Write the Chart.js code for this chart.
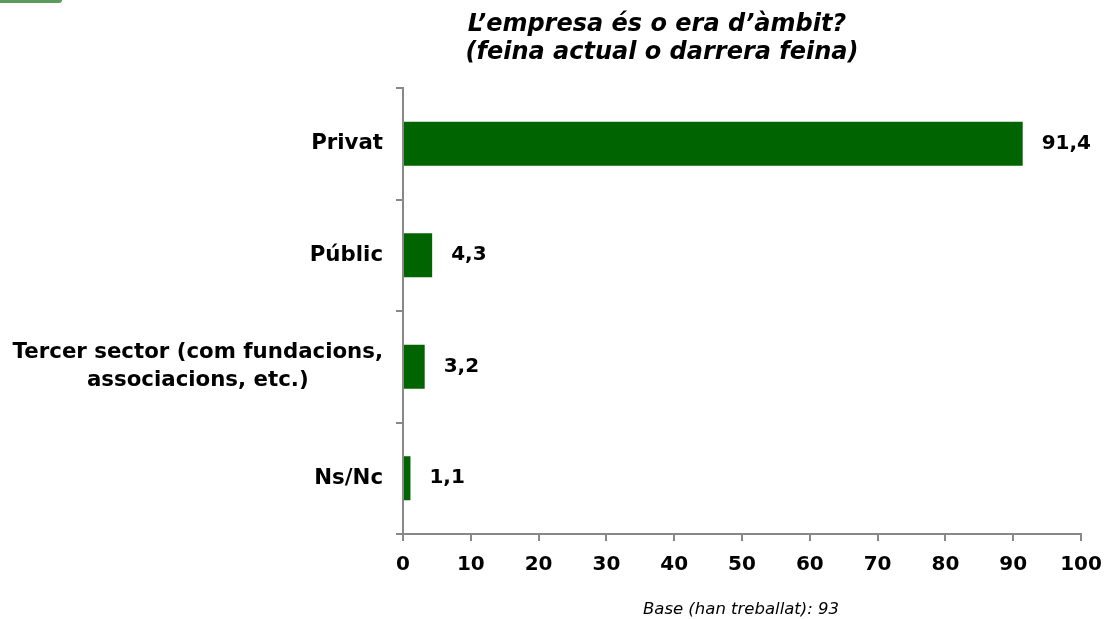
<!DOCTYPE html>
<html>
<head>
<meta charset="utf-8">
<script src="https://cdn.jsdelivr.net/npm/chart.js@4.4.0/dist/chart.umd.min.js"></script>
<style>
  html, body { margin: 0; padding: 0; background: #fff; }
  #wrap { position: relative; width: 1107px; height: 619px; }
  #deco { position: absolute; left: 0; top: 0; width: 62px; height: 3px; background: #5b9b5b; border-bottom-right-radius: 3px; }
</style>
</head>
<body>
<div id="wrap">
  <canvas id="c" width="1107" height="619"></canvas>
  <div id="deco"></div>
</div>
<script>
const categories = [["Privat"], ["Públic"], ["Tercer sector (com fundacions,", "associacions, etc."+")"], ["Ns/Nc"]];
const values = [91.4, 4.3, 3.2, 1.1];
const valueLabels = ["91,4", "4,3", "3,2", "1,1"];
const xTicks = [0, 10, 20, 30, 40, 50, 60, 70, 80, 90, 100];
const titleLines = ["L\u2019empresa és o era d\u2019àmbit?", "(feina actual o darrera feina)"];
const footnote = "Base (han treballat): 93";

const FONT = '"DejaVu Sans", Verdana, sans-serif';
const AXIS_COLOR = '#888888';
const BAR_COLOR = '#006400';

const textPlugin = {
  id: 'textPlugin',
  afterDraw(chart) {
    const ctx = chart.ctx;
    const ys = chart.scales.y;
    ctx.save();
    ctx.fillStyle = '#000';
    // category labels
    ctx.font = 'bold 21.3px ' + FONT;
    ctx.textBaseline = 'middle';
    ctx.textAlign = 'center';
    const lineH = 28;
    categories.forEach((lines, i) => {
      const yc = ys.getPixelForValue(i);
      const w = Math.max(...lines.map(l => ctx.measureText(l).width));
      const cx = ys.right - 20 - w / 2;
      lines.forEach((l, j) => {
        ctx.fillText(l, cx, yc + (j - (lines.length - 1) / 2) * lineH);
      });
    });
    // value labels
    ctx.font = 'bold 20px ' + FONT;
    ctx.textAlign = 'left';
    const meta = chart.getDatasetMeta(0);
    meta.data.forEach((bar, i) => {
      ctx.fillText(valueLabels[i], bar.x + 19, bar.y);
    });
    // title
    ctx.font = 'italic bold 24px ' + FONT;
    ctx.textAlign = 'center';
    ctx.textBaseline = 'alphabetic';
    ctx.fillText(titleLines[0], 657, 31);
    ctx.fillText(titleLines[1], 662, 59);
    // footnote
    ctx.font = 'italic 16.5px ' + FONT;
    ctx.fillText(footnote, 741, 614);
    ctx.restore();
  }
};

new Chart(document.getElementById('c'), {
  type: 'bar',
  data: {
    labels: categories,
    datasets: [{
      data: values,
      backgroundColor: BAR_COLOR,
      borderWidth: 0,
      categoryPercentage: 1,
      barPercentage: 0.395
    }]
  },
  options: {
    indexAxis: 'y',
    responsive: false,
    animation: false,
    devicePixelRatio: 1,
    layout: { padding: { top: 88, right: 26, left: 0, bottom: 0 } },
    plugins: { legend: { display: false }, title: { display: false }, tooltip: { enabled: false } },
    scales: {
      x: {
        type: 'linear',
        min: 0, max: 100,
        afterBuildTicks(scale) { scale.ticks = xTicks.map(v => ({ value: v })); },
        ticks: { color: '#000', font: { family: FONT, size: 20, weight: 'bold' }, padding: 12 },
        grid: { drawOnChartArea: false, drawTicks: true, tickLength: 7, color: AXIS_COLOR, lineWidth: 2 },
        border: { display: true, color: AXIS_COLOR, width: 2 },
        afterFit(scale) { scale.height = 619 - 534; scale.paddingRight = 0; scale.paddingLeft = 0; }
      },
      y: {
        type: 'category',
        offset: true,
        ticks: { display: false },
        grid: { offset: true, drawOnChartArea: false, drawTicks: true, tickLength: 7, color: AXIS_COLOR, lineWidth: 2 },
        border: { display: true, color: AXIS_COLOR, width: 2 },
        afterFit(scale) { scale.width = 403; }
      }
    }
  },
  plugins: [textPlugin]
});
</script>
</body>
</html>
